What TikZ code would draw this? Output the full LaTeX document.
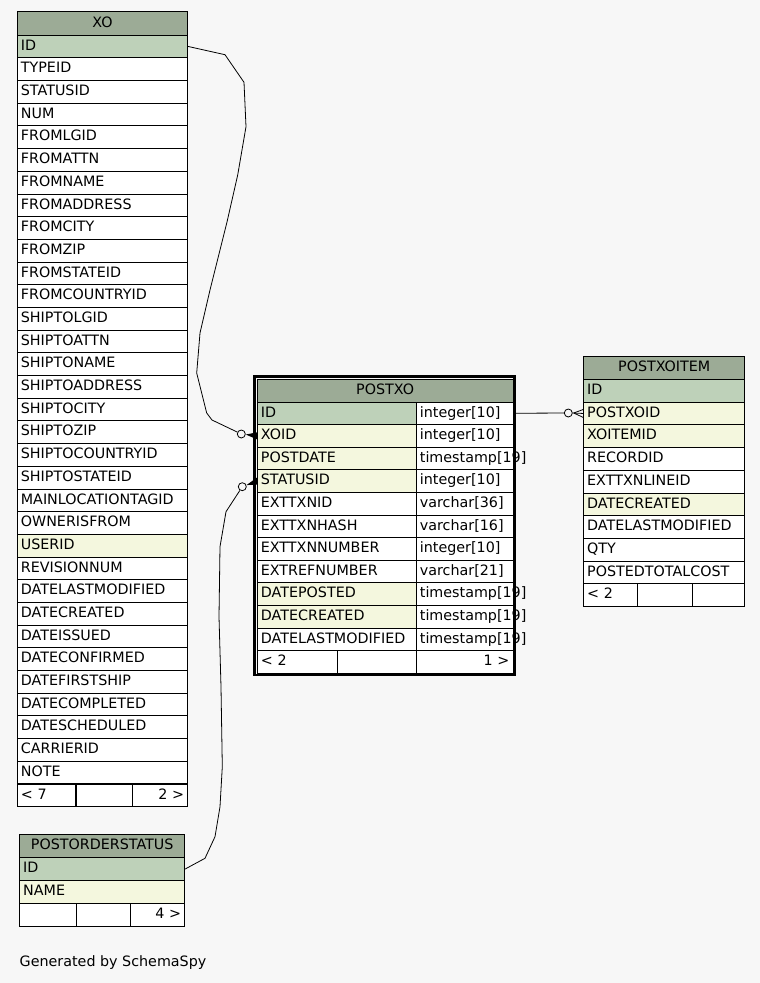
\documentclass[tikz,border=0pt]{standalone}
\usepackage{fontspec}
\setmainfont{DejaVu Sans}
\definecolor{hdrfill}{HTML}{9CAB96}
\definecolor{pkfill}{HTML}{BED1B9}
\definecolor{fkfill}{HTML}{F4F7DE}
\definecolor{canvas}{HTML}{F7F7F7}
\usetikzlibrary{calc}

\begin{document}
\begin{tikzpicture}[x=1pt, y=-1pt,
  every node/.style={font=\fontsize{14.3}{16}\selectfont},
  hdr/.style={draw, fill=hdrfill, anchor=north west, inner sep=0pt,
              text height=10.5pt, text depth=3pt},
  cell/.style={draw, fill=white, anchor=north west, inner xsep=3.5pt, inner ysep=0pt,
               minimum height=22.7pt, text height=10.5pt, text depth=3pt,
               align=left, text width=#1},
  rcell/.style={cell=#1, align=right},
  rel/.style={line width=0.8pt},
  odot/.style={circle, draw, fill=canvas, line width=0.8pt, minimum size=8pt, inner sep=0pt}]
  \fill[canvas] (0,0) rectangle (760,983);
  \useasboundingbox (0,0) rectangle (760,983);
  \tikzset{every path/.append style={line width=0.8pt}}

  % XO
  \node[hdr, minimum width=170.3pt, minimum height=23.7pt] (xo) at (17,11) {XO};
  \foreach \col/\txt [count=\i from 0] in {pkfill/ID, white/TYPEID, white/STATUSID, white/NUM,
      white/FROMLGID, white/FROMATTN, white/FROMNAME, white/FROMADDRESS, white/FROMCITY,
      white/FROMZIP, white/FROMSTATEID, white/FROMCOUNTRYID, white/SHIPTOLGID, white/SHIPTOATTN,
      white/SHIPTONAME, white/SHIPTOADDRESS, white/SHIPTOCITY, white/SHIPTOZIP,
      white/SHIPTOCOUNTRYID, white/SHIPTOSTATEID, white/MAINLOCATIONTAGID, white/OWNERISFROM,
      fkfill/USERID, white/REVISIONNUM, white/DATELASTMODIFIED, white/DATECREATED,
      white/DATEISSUED, white/DATECONFIRMED, white/DATEFIRSTSHIP, white/DATECOMPLETED,
      white/DATESCHEDULED, white/CARRIERID, white/NOTE}
    \node[cell=163.3pt, fill=\col] (xo-\i) at ({17},{34.7+\i*22.69}) {\txt};
  \node[cell=51.4pt] (xo-f1) at (17,783.5) {< 7};
  \node[cell=49pt] (xo-f2) at (75.7,783.5) {};
  \node[rcell=48.6pt] (xo-f3) at (131.7,783.5) {2 >};

  % POSTORDERSTATUS
  \node[hdr, minimum width=165pt, minimum height=23.6pt] (pos) at (19.3,833.7) {POSTORDERSTATUS};
  \node[cell=158pt, fill=pkfill] (pos-0) at (19.3,857.3) {ID};
  \node[cell=158pt, fill=fkfill] (pos-1) at (19.3,880.3) {NAME};
  \node[cell=49.4pt] (pos-f1) at (19.3,903.1) {};
  \node[cell=47pt] (pos-f2) at (75.7,903.1) {};
  \node[rcell=47.6pt] (pos-f3) at (129.7,903.1) {4 >};

  % POSTXO
  \node[hdr, minimum width=255.5pt, minimum height=22.5pt] (pxo) at (257,379) {POSTXO};
  \foreach \col/\txt/\typ [count=\i from 0] in {pkfill/ID/integer[10], fkfill/XOID/integer[10],
      fkfill/POSTDATE/timestamp[19], fkfill/STATUSID/integer[10], white/EXTTXNID/varchar[36],
      white/EXTTXNHASH/varchar[16], white/EXTTXNNUMBER/integer[10], white/EXTREFNUMBER/varchar[21],
      fkfill/DATEPOSTED/timestamp[19], fkfill/DATECREATED/timestamp[19],
      white/DATELASTMODIFIED/timestamp[19]}
  {
    \node[cell=152pt, fill=\col] (pxo-\i) at ({257},{401.5+\i*22.6}) {\txt};
    \node[cell=89.5pt] (pxt-\i) at ({416},{401.5+\i*22.6}) {\typ};
  }
  \node[cell=72.7pt] (pxo-f1) at (257,650.1) {< 2};
  \node[cell=72.3pt] (pxo-f2) at (336.7,650.1) {};
  \node[rcell=89.5pt] (pxo-f3) at (416,650.1) {1 >};
  \draw[line width=2.5pt] (254.5,376.5) rectangle (514.5,675);

  % POSTXOITEM
  \node[hdr, minimum width=161pt, minimum height=23.3pt] (pxi) at (583.3,355.7) {POSTXOITEM};
  \foreach \col/\txt [count=\i from 0] in {pkfill/ID, fkfill/POSTXOID, fkfill/XOITEMID,
      white/RECORDID, white/EXTTXNLINEID, fkfill/DATECREATED, white/DATELASTMODIFIED,
      white/QTY, white/POSTEDTOTALCOST}
    \node[cell=154pt, fill=\col] (pxi-\i) at ({583.3},{379+\i*22.7}) {\txt};
  \node[cell=47pt] (pxi-f1) at (583.3,583.3) {< 2};
  \node[cell=47.4pt] (pxi-f2) at (637.3,583.3) {};
  \node[cell=45.6pt] (pxi-f3) at (691.7,583.3) {};

  % relations
  \node[odot] (o-xoid) at (241.3,434) {};
  \node[odot] (o-statusid) at (242.3,486.7) {};
  \node[odot] (o-postxoid) at (568.3,413) {};
  \draw[rel] (xo-0.east) -- (225,54.7) -- (244,82.3) -- (246,126.7) -- (237.7,175) -- (227,222)
    -- (210,290) -- (200,333) -- (196.7,373) -- (206.7,413) -- (212,420) -- (o-xoid);
  \fill ($(o-xoid)!4.5pt!(pxo-1.west)$) -- ([yshift=3.5pt]pxo-1.west)
    -- ([yshift=-3.5pt]pxo-1.west) -- cycle;
  \draw[rel] (pos-0.east) -- (205,858.3) -- (215,836.7) -- (220,806.7) -- (222.3,766.7)
    -- (221,686.7) -- (219,616.7) -- (220,546.7) -- (226,511.7) -- (o-statusid);
  \fill ($(o-statusid)!4.5pt!(pxo-3.west)$) -- ([yshift=3.5pt]pxo-3.west)
    -- ([yshift=-3.5pt]pxo-3.west) -- cycle;
  \draw[rel] (pxt-0.east) -- (o-postxoid);
  \draw[rel] (o-postxoid.east) -- (pxi-1.west);
  \draw[rel] ([xshift=1pt]o-postxoid.east) -- ([yshift=4pt]pxi-1.west);
  \draw[rel] ([xshift=1pt]o-postxoid.east) -- ([yshift=-4pt]pxi-1.west);

  \node[anchor=base west] (credit) at (16,966) {Generated by SchemaSpy};
\end{tikzpicture}
\end{document}
